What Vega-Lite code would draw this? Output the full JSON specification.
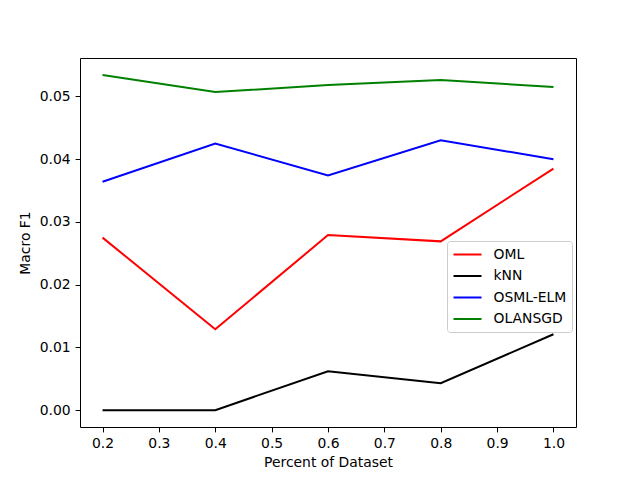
{
  "$schema": "https://vega.github.io/schema/vega-lite/v6.json",
  "width": 496,
  "height": 369,
  "autosize": {"type": "none"},
  "padding": {"left": 80, "top": 58, "right": 64, "bottom": 53},
  "background": "white",
  "config": {
    "font": "DejaVu Sans",
    "view": {"stroke": "black", "strokeWidth": 1},
    "axis": {
      "grid": false,
      "domain": false,
      "tickColor": "black",
      "tickSize": 4.9,
      "labelColor": "black",
      "labelFontSize": 13.9,
      "titleFontSize": 13.9,
      "titleFontWeight": "normal",
      "titleColor": "black",
      "labelPadding": 4.9
    }
  },
  "data": {
    "values": [
      {"pct": 0.2, "f1": 0.0275, "model": "OML"},
      {"pct": 0.4, "f1": 0.0129, "model": "OML"},
      {"pct": 0.6, "f1": 0.0279, "model": "OML"},
      {"pct": 0.8, "f1": 0.0269, "model": "OML"},
      {"pct": 1.0, "f1": 0.0385, "model": "OML"},
      {"pct": 0.2, "f1": 0.0, "model": "kNN"},
      {"pct": 0.4, "f1": 0.0, "model": "kNN"},
      {"pct": 0.6, "f1": 0.0062, "model": "kNN"},
      {"pct": 0.8, "f1": 0.0043, "model": "kNN"},
      {"pct": 1.0, "f1": 0.0121, "model": "kNN"},
      {"pct": 0.2, "f1": 0.0364, "model": "OSML-ELM"},
      {"pct": 0.4, "f1": 0.0425, "model": "OSML-ELM"},
      {"pct": 0.6, "f1": 0.0374, "model": "OSML-ELM"},
      {"pct": 0.8, "f1": 0.0430, "model": "OSML-ELM"},
      {"pct": 1.0, "f1": 0.0400, "model": "OSML-ELM"},
      {"pct": 0.2, "f1": 0.0534, "model": "OLANSGD"},
      {"pct": 0.4, "f1": 0.0507, "model": "OLANSGD"},
      {"pct": 0.6, "f1": 0.0518, "model": "OLANSGD"},
      {"pct": 0.8, "f1": 0.0526, "model": "OLANSGD"},
      {"pct": 1.0, "f1": 0.0515, "model": "OLANSGD"}
    ]
  },
  "mark": {"type": "line", "strokeWidth": 2, "clip": true},
  "encoding": {
    "x": {
      "field": "pct",
      "type": "quantitative",
      "title": "Percent of Dataset",
      "scale": {"domain": [0.16, 1.04], "nice": false, "zero": false},
      "axis": {"values": [0.2, 0.3, 0.4, 0.5, 0.6, 0.7, 0.8, 0.9, 1.0], "format": ".1f", "titlePadding": 5}
    },
    "y": {
      "field": "f1",
      "type": "quantitative",
      "title": "Macro F1",
      "scale": {"domain": [-0.00268, 0.05612], "nice": false, "zero": false},
      "axis": {"values": [0, 0.01, 0.02, 0.03, 0.04, 0.05], "format": ".2f", "titlePadding": 7}
    },
    "color": {
      "field": "model",
      "type": "nominal",
      "sort": ["OML", "kNN", "OSML-ELM", "OLANSGD"],
      "scale": {
        "domain": ["OML", "kNN", "OSML-ELM", "OLANSGD"],
        "range": ["red", "black", "blue", "#008000"]
      },
      "legend": {
        "title": null,
        "orient": "none",
        "legendX": 367,
        "legendY": 183,
        "symbolType": "M-2,0L2,0",
        "symbolSize": 196,
        "symbolStrokeWidth": 2,
        "symbolOffset": 7,
        "labelFontSize": 13.9,
        "labelColor": "black",
        "labelOffset": 18,
        "rowPadding": 6.5,
        "padding": 5.5,
        "fillColor": "white",
        "strokeColor": "#cccccc",
        "cornerRadius": 3,
        "offset": 0
      }
    }
  }
}
